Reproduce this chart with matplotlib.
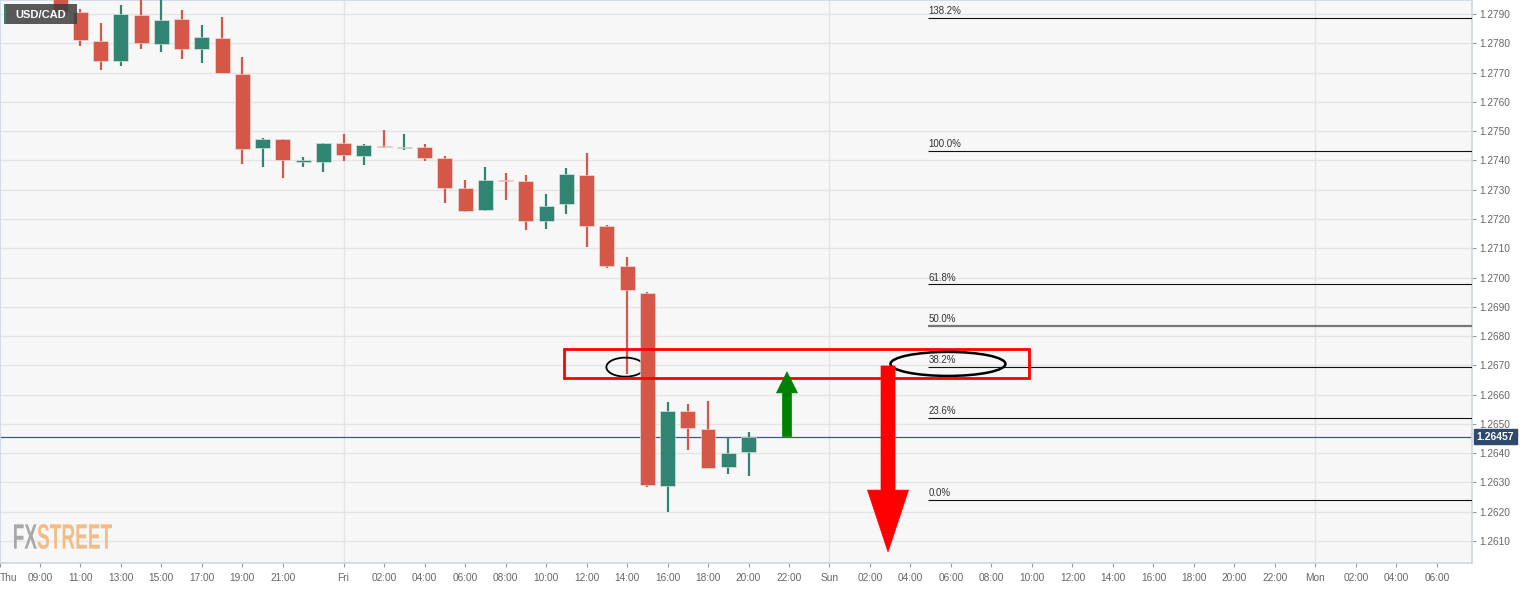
import matplotlib
matplotlib.use("Agg")
import matplotlib.pyplot as plt
import numpy as np
from matplotlib.patches import Rectangle, Ellipse, Polygon, PathPatch
from matplotlib.textpath import TextPath, text_to_path
from matplotlib.font_manager import FontProperties
from matplotlib.transforms import Affine2D, blended_transform_factory

plt.rcParams['font.family'] = ['Liberation Sans', 'DejaVu Sans']

# ---------------- data ----------------
symbol = "USD/CAD"
candle_times = ["Thu 10:00", "Thu 11:00", "Thu 12:00", "Thu 13:00", "Thu 14:00", "Thu 15:00",
                "Thu 16:00", "Thu 17:00", "Thu 18:00", "Thu 19:00", "Thu 20:00", "Thu 21:00",
                "Thu 22:00", "Thu 23:00",
                "Fri 00:00", "Fri 01:00", "Fri 02:00", "Fri 03:00", "Fri 04:00", "Fri 05:00",
                "Fri 06:00", "Fri 07:00", "Fri 08:00", "Fri 09:00", "Fri 10:00", "Fri 11:00",
                "Fri 12:00", "Fri 13:00", "Fri 14:00", "Fri 15:00", "Fri 16:00", "Fri 17:00",
                "Fri 18:00", "Fri 19:00", "Fri 20:00"]
opens = [1.27958, 1.27906, 1.27809, 1.27738, 1.27898, 1.27799, 1.27882, 1.27779, 1.27818, 1.27695,
         1.27443, 1.27472, 1.27396, 1.27394, 1.27460, 1.27415, 1.27450, 1.27443, 1.27445, 1.27407,
         1.27307, 1.27231, 1.27332, 1.27330, 1.27193, 1.27251, 1.27350, 1.27175, 1.27041, 1.26948,
         1.26288, 1.26544, 1.26483, 1.26353, 1.26405]
highs = [1.27975, 1.27917, 1.27868, 1.27931, 1.27955, 1.27958, 1.27913, 1.27862, 1.27891, 1.27752,
         1.27476, 1.27474, 1.27411, 1.27460, 1.27490, 1.27457, 1.27504, 1.27489, 1.27455, 1.27415,
         1.27333, 1.27377, 1.27356, 1.27350, 1.27285, 1.27374, 1.27426, 1.27178, 1.27071, 1.26952,
         1.26575, 1.26569, 1.26578, 1.26456, 1.26473]
lows = [1.27905, 1.27792, 1.27709, 1.27722, 1.27780, 1.27771, 1.27746, 1.27734, 1.27697, 1.27387,
        1.27379, 1.27341, 1.27379, 1.27359, 1.27399, 1.27384, 1.27444, 1.27436, 1.27399, 1.27255,
        1.27225, 1.27229, 1.27264, 1.27162, 1.27166, 1.27218, 1.27103, 1.27034, 1.26671, 1.26284,
        1.26200, 1.26410, 1.26350, 1.26328, 1.26323]
closes = [1.27907, 1.27811, 1.27741, 1.27899, 1.27800, 1.27881, 1.27779, 1.27820, 1.27699, 1.27438,
          1.27472, 1.27400, 1.27400, 1.27458, 1.27417, 1.27452, 1.27445, 1.27447, 1.27409, 1.27307,
          1.27226, 1.27332, 1.27329, 1.27192, 1.27245, 1.27353, 1.27175, 1.27041, 1.26957, 1.26290,
          1.26544, 1.26485, 1.26351, 1.26402, 1.26457]
last_price = 1.26457

fib_low = 1.26240
fib_high = 1.27432
fib_ratios = [1.382, 1.0, 0.618, 0.5, 0.382, 0.236, 0.0]
fib_labels = ["138.2%", "100.0%", "61.8%", "50.0%", "38.2%", "23.6%", "0.0%"]

day_offsets = {"Thu": 0, "Fri": 24, "Sun": 48, "Mon": 72}
xtick_times = ["Thu 09:00", "Thu 11:00", "Thu 13:00", "Thu 15:00", "Thu 17:00", "Thu 19:00", "Thu 21:00",
               "Fri 00:00", "Fri 02:00", "Fri 04:00", "Fri 06:00", "Fri 08:00", "Fri 10:00", "Fri 12:00",
               "Fri 14:00", "Fri 16:00", "Fri 18:00", "Fri 20:00", "Fri 22:00",
               "Sun 00:00", "Sun 02:00", "Sun 04:00", "Sun 06:00", "Sun 08:00", "Sun 10:00", "Sun 12:00",
               "Sun 14:00", "Sun 16:00", "Sun 18:00", "Sun 20:00", "Sun 22:00",
               "Mon 00:00", "Mon 02:00", "Mon 04:00", "Mon 06:00"]
ytick_values = [1.2610, 1.2620, 1.2630, 1.2640, 1.2650, 1.2660, 1.2670, 1.2680, 1.2690, 1.2700,
                1.2710, 1.2720, 1.2730, 1.2740, 1.2750, 1.2760, 1.2770, 1.2780, 1.2790]
day_boundaries = ["Fri 00:00", "Sun 00:00", "Mon 00:00"]


def slot(t):
    d, hm = t.split()
    return day_offsets[d] + int(hm.split(":")[0])


def tick_label(t):
    d, hm = t.split()
    return d if hm == "00:00" else hm


# ---------------- style / layout ----------------
RED = "#d55748"
GREEN = "#308572"
X_LEFT, X_RIGHT = 7.035, 79.73
Y_BOTTOM, Y_TOP = 1.26025, 1.27948

fig = plt.figure(figsize=(15.36, 5.89), dpi=100)
fig.patch.set_facecolor("white")
ax = fig.add_axes([0, 1 - 563 / 589, 1472 / 1536, 563 / 589])
ax.set_facecolor("#f7f7f7")
ax.set_xlim(X_LEFT, X_RIGHT)
ax.set_ylim(Y_BOTTOM, Y_TOP)

for s in ax.spines.values():
    s.set_color("#cdd6e6")
    s.set_linewidth(1.2)

# grid
ax.set_yticks(ytick_values)
ax.set_yticklabels([f"{v:.4f}" for v in ytick_values])
ax.grid(axis="y", color="#e4e4e4", lw=1.0, zorder=0)
for b in day_boundaries:
    ax.axvline(slot(b), color="#e4e4e4", lw=1.0, zorder=0)

ax.yaxis.tick_right()
ax.tick_params(axis="y", direction="out", length=3, width=0.8, color="#999999",
               labelcolor="#666666", labelsize=7.3, pad=2)

xt = [X_LEFT] + [slot(t) for t in xtick_times]
xl = ["Thu"] + [tick_label(t) for t in xtick_times]
ax.set_xticks(xt)
ax.set_xticklabels(xl)
ax.tick_params(axis="x", direction="out", length=3, width=0.8, color="#999999",
               labelcolor="#666666", labelsize=7.3, pad=4)
ax.get_xticklabels()[0].set_ha("left")

# candles
xs = np.array([slot(t) for t in candle_times])
o = np.array(opens); h = np.array(highs); l = np.array(lows); c = np.array(closes)
cols = np.where(c >= o, GREEN, RED)
ax.vlines(xs, l, h, colors=cols, lw=1.6, zorder=3)
body_bottom = np.minimum(o, c)
body_h = np.maximum(np.abs(c - o), 0.00004)
ax.bar(xs, body_h, bottom=body_bottom, width=0.74, color=cols, edgecolor="#f2e8e6",
       linewidth=0.4, zorder=4)

# current price line
ax.axhline(last_price, color="#3c5a85", lw=0.9, zorder=2)
tr = blended_transform_factory(ax.transAxes, ax.transData)
ax.text(1.003, last_price, f"{last_price:.5f}", transform=tr, ha="left", va="center",
        fontsize=7.5, fontweight="bold", color="white", clip_on=False, zorder=10,
        bbox=dict(boxstyle="square,pad=0.25", facecolor="#2f4a6c", edgecolor="#2f4a6c"))

# fibonacci levels
FIB_X0 = 52.86
rng = fib_high - fib_low
for r, lbl in zip(fib_ratios, fib_labels):
    p = fib_low + r * rng
    if r == 0.5:
        ax.hlines(p, FIB_X0, X_RIGHT, color="#777777", lw=1.6, zorder=5)
    else:
        ax.hlines(p, FIB_X0, X_RIGHT, color="#111111", lw=0.8, zorder=5)
    ax.annotate(lbl, (FIB_X0, p), xytext=(0.5, 1.2), textcoords="offset points",
                fontsize=7, color="#333333", ha="left", va="bottom", zorder=6)

# annotations: red zone rectangle
zone_x0, zone_x1 = 34.89, 57.85
zone_lo, zone_hi = 1.26657, 1.26756
ax.add_patch(Rectangle((zone_x0, zone_lo), zone_x1 - zone_x0, zone_hi - zone_lo,
                       fill=False, edgecolor="#ff0000", lw=2.0, zorder=7))
# ellipses
ax.add_patch(Ellipse((37.92, 1.26694), 1.88, 0.00065, fill=False, edgecolor="black",
                     lw=1.3, zorder=3.5))
ax.add_patch(Ellipse((53.85, 1.26705), 5.68, 0.00082, fill=False, edgecolor="black",
                     lw=1.8, zorder=8))


def arrow(cx, sw, hw, y_start, y_headbase, y_tip, color):
    pts = [(cx - sw, y_start), (cx + sw, y_start), (cx + sw, y_headbase), (cx + hw, y_headbase),
           (cx, y_tip), (cx - hw, y_headbase), (cx - sw, y_headbase)]
    ax.add_patch(Polygon(pts, closed=True, facecolor=color, edgecolor=color, lw=0.5, zorder=9))


arrow(45.90, 0.222, 0.52, last_price, 1.26606, 1.26678, "#008000")
arrow(50.89, 0.346, 1.012, 1.26698, 1.26274, 1.26063, "#ff0000")

# symbol badge
def fx(px):
    return px / 1536


def fy(py):
    return 1 - py / 589


fig.add_artist(Rectangle((fx(5), fy(24)), fx(72), 20 / 589, transform=fig.transFigure,
                         facecolor="#3d3d3d", alpha=0.85, edgecolor="none", zorder=20))
fig.add_artist(Rectangle((fx(4), fy(24)), fx(2), 20 / 589, transform=fig.transFigure,
                         facecolor=GREEN, edgecolor="none", zorder=21))
fig.text(fx(41), fy(14.5), symbol, ha="center", va="center", fontsize=8, fontweight="bold",
         color="white", zorder=22)

# FXSTREET watermark
fp = FontProperties(family="Liberation Sans", weight="bold", size=100)
w_fx, _, _ = text_to_path.get_text_width_height_descent("FX", fp, ismath=False)
tp_fx = TextPath((0, 0), "FX", prop=fp)
tp_st = TextPath((w_fx, 0), "STREET", prop=fp)
tp_all = TextPath((0, 0), "FXSTREET", prop=fp)
ext = tp_all.get_extents()
box_x0, box_x1, box_y0, box_y1 = 14, 112, 589 - 549, 589 - 524
sx = (box_x1 - box_x0) / ext.width
sy = (box_y1 - box_y0) / ext.height
tf = Affine2D().translate(-ext.x0, -ext.y0).scale(sx, sy).translate(box_x0, box_y0)
fig.add_artist(PathPatch(tp_fx, transform=tf, facecolor="#9a9a9a", edgecolor="none",
                         alpha=0.85, zorder=15))
fig.add_artist(PathPatch(tp_st, transform=tf, facecolor="#f2b272", edgecolor="none",
                         alpha=0.85, zorder=15))

fig.savefig("out.png", dpi=100, facecolor="white")
